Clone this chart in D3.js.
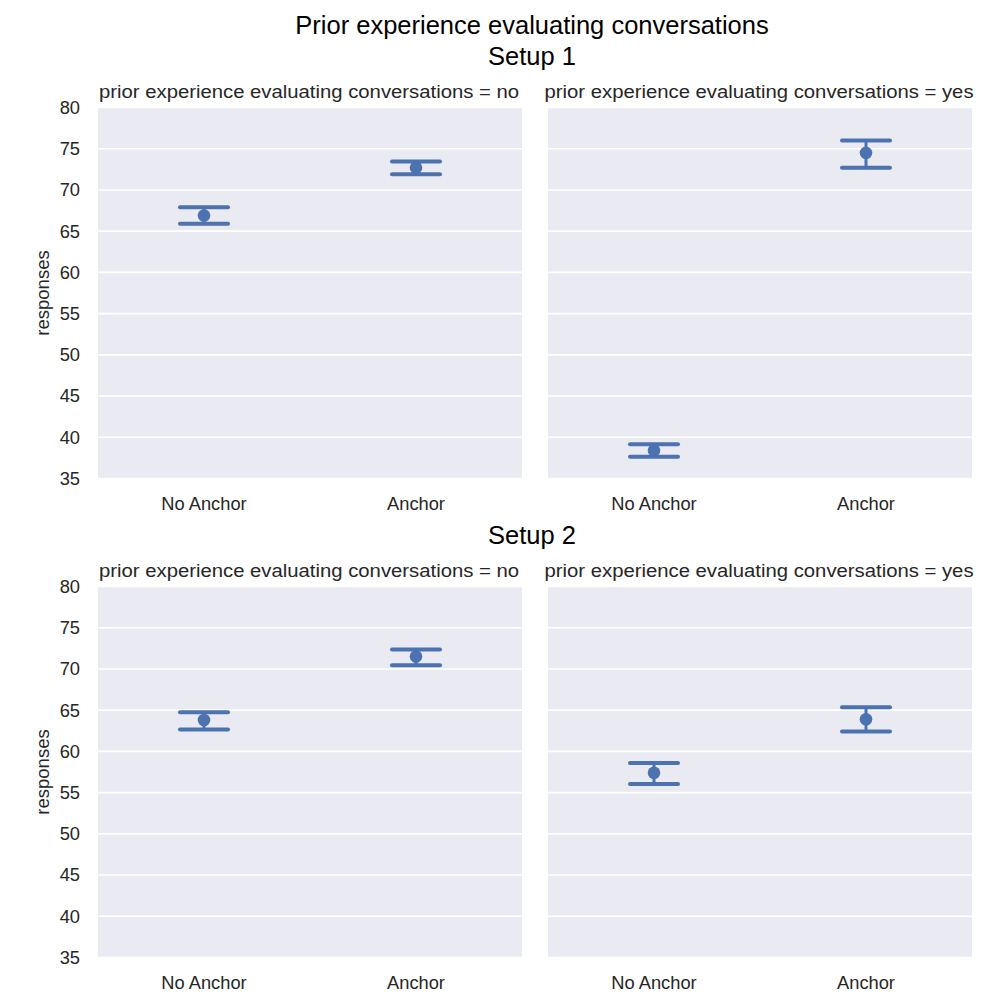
<!DOCTYPE html>
<html lang="en">
  <head>
    <meta charset="utf-8">
    <title>Prior experience evaluating conversations</title>
    <script src="https://d3js.org/d3.v7.min.js"></script>
    <style>
      body {
        margin: 0;
        background: #fff;
        font-family: "Liberation Sans", Arial, sans-serif;
      }
      .tick-label { fill: #262626; font-size: 18.3px; }
      .axis-label { fill: #262626; font-size: 18.5px; }
      .facet-title { fill: #262626; font-size: 17.5px; }
      .suptitle { fill: #000; font-size: 25.5px; }
    </style>
  </head>
  <body>
    <svg id="chart" width="1006" height="1000"></svg>
    <script>
      // categories and tick labels
      const conditions = ["No Anchor", "Anchor"];
      const experience = ["no", "yes"];
      const setupNames = ["Setup 1", "Setup 2"];
      const yTicks = [35, 40, 45, 50, 55, 60, 65, 70, 75, 80];

      // point estimates (No Anchor, Anchor) and error bar bounds [low, high]
      const setup1NoMean = [66.9, 72.7];
      const setup1NoCi = [[65.9, 67.9], [71.9, 73.45]];
      const setup1YesMean = [38.4, 74.5];
      const setup1YesCi = [[37.65, 39.15], [72.7, 76.0]];
      const setup2NoMean = [63.8, 71.5];
      const setup2NoCi = [[62.65, 64.75], [70.45, 72.35]];
      const setup2YesMean = [57.4, 63.9];
      const setup2YesCi = [[56.05, 58.6], [62.4, 65.35]];

      const panels = [
        [{mean: setup1NoMean, ci: setup1NoCi}, {mean: setup1YesMean, ci: setup1YesCi}],
        [{mean: setup2NoMean, ci: setup2NoCi}, {mean: setup2YesMean, ci: setup2YesCi}]
      ];

      const svg = d3.select("#chart");
      const blue = "#4c72b0";

      const panelW = 424, panelH = 371;
      const colX = [98, 548];
      const rowY = [107.5, 586.5];

      const x = d3.scalePoint().domain(conditions).range([0, panelW]).padding(0.5);
      const y = d3.scaleLinear().domain([35, 80]).range([panelH, 0]);
      const capHalf = 24;

      svg.append("text").attr("class", "suptitle")
        .attr("x", 532).attr("y", 34).attr("text-anchor", "middle")
        .text("Prior experience evaluating conversations");

      setupNames.forEach((name, r) => {
        svg.append("text").attr("class", "suptitle")
          .attr("x", 532).attr("y", rowY[r] - 43).attr("text-anchor", "middle")
          .text(name);

        experience.forEach((exp, c) => {
          const g = svg.append("g").attr("transform", `translate(${colX[c]},${rowY[r]})`);
          const d = panels[r][c];

          g.append("rect").attr("width", panelW).attr("height", panelH).attr("fill", "#eaeaf2");

          g.selectAll(".grid").data(yTicks).enter().append("line")
            .attr("x1", 0).attr("x2", panelW)
            .attr("y1", t => y(t)).attr("y2", t => y(t))
            .attr("stroke", "#fff").attr("stroke-width", 1.6);

          // facet titles in the reference are a little wider than the font
          g.append("text").attr("class", "facet-title")
            .attr("transform", `translate(${panelW / 2 - 1},-10) scale(1.16,1)`)
            .attr("text-anchor", "middle")
            .text(`prior experience evaluating conversations = ${exp}`);

          if (c === 0) {
            g.selectAll(".ytick").data(yTicks).enter().append("text")
              .attr("class", "tick-label")
              .attr("x", -18).attr("y", t => y(t)).attr("dy", "0.35em")
              .attr("text-anchor", "end").text(t => t);
            g.append("text").attr("class", "axis-label")
              .attr("transform", `translate(-49,${panelH / 2}) rotate(-90)`)
              .attr("text-anchor", "middle").text("responses");
          }

          g.selectAll(".xtick").data(conditions).enter().append("text")
            .attr("class", "tick-label")
            .attr("x", k => x(k)).attr("y", panelH + 31).attr("text-anchor", "middle")
            .text(k => k);

          conditions.forEach((k, i) => {
            const cx = x(k), lo = y(d.ci[i][0]), hi = y(d.ci[i][1]);
            g.append("line").attr("x1", cx).attr("x2", cx).attr("y1", lo).attr("y2", hi)
              .attr("stroke", blue).attr("stroke-width", 3);
            [lo, hi].forEach(v => {
              g.append("line").attr("x1", cx - capHalf).attr("x2", cx + capHalf)
                .attr("y1", v).attr("y2", v)
                .attr("stroke", blue).attr("stroke-width", 4).attr("stroke-linecap", "round");
            });
            g.append("circle").attr("cx", cx).attr("cy", y(d.mean[i])).attr("r", 6.3).attr("fill", blue);
          });
        });
      });
    </script>
  </body>
</html>
